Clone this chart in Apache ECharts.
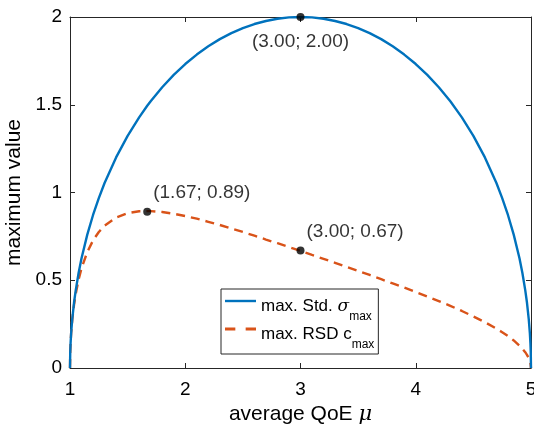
<!DOCTYPE html>
<html>
<head>
<meta charset="utf-8">
<script src="https://cdn.jsdelivr.net/npm/echarts@6/dist/echarts.min.js"></script>
<style>html,body{margin:0;padding:0;background:#fff}#c{width:534px;height:429px}</style>
</head>
<body>
<div id="c"></div>
<script>
// ---- data ----
var mu = [1, 1.002, 1.005, 1.01, 1.02, 1.035, 1.05, 1.075, 1.1, 1.15, 1.2, 1.25, 1.3, 1.4, 1.5, 1.6, 1.67, 1.7, 1.8, 1.9,
          2.0, 2.1, 2.2, 2.3, 2.4, 2.5, 2.6, 2.7, 2.8, 2.9, 3.0, 3.1, 3.2, 3.3, 3.4, 3.5, 3.6, 3.7, 3.8, 3.9,
          4.0, 4.1, 4.2, 4.3, 4.4, 4.5, 4.6, 4.7, 4.75, 4.8, 4.85, 4.9, 4.925, 4.95, 4.965, 4.98, 4.99, 4.995, 4.998, 5];
var sigmaMax = [0, 0.089, 0.141, 0.200, 0.282, 0.373, 0.444, 0.543, 0.625, 0.760, 0.872, 0.968, 1.054, 1.200, 1.323, 1.428, 1.494, 1.520, 1.600, 1.670,
          1.732, 1.786, 1.833, 1.874, 1.908, 1.937, 1.960, 1.977, 1.990, 1.998, 2.000, 1.998, 1.990, 1.977, 1.960, 1.937, 1.908, 1.874, 1.833, 1.786,
          1.732, 1.670, 1.600, 1.520, 1.428, 1.323, 1.200, 1.054, 0.968, 0.872, 0.760, 0.625, 0.543, 0.444, 0.373, 0.282, 0.200, 0.141, 0.089, 0];
var rsdMax = [0, 0.089, 0.141, 0.198, 0.277, 0.360, 0.423, 0.505, 0.568, 0.661, 0.727, 0.775, 0.811, 0.857, 0.882, 0.893, 0.894, 0.894, 0.889, 0.879,
          0.866, 0.851, 0.833, 0.815, 0.795, 0.775, 0.754, 0.732, 0.711, 0.689, 0.667, 0.644, 0.622, 0.599, 0.576, 0.553, 0.530, 0.506, 0.482, 0.458,
          0.433, 0.407, 0.381, 0.354, 0.325, 0.294, 0.261, 0.224, 0.204, 0.182, 0.157, 0.127, 0.110, 0.090, 0.075, 0.057, 0.040, 0.028, 0.018, 0];
var markX = [3.00, 1.67, 3.00];
var markY = [2.00, 0.89, 0.67];
var xTicks = [1, 2, 3, 4, 5];
var yTicks = [0, 0.5, 1, 1.5, 2];
var seriesNames = ['max. Std. σmax', 'max. RSD cmax'];

var FONT = 'Liberation Sans, Arial, Helvetica, sans-serif';
var SERIF = 'DejaVu Serif, Liberation Serif, serif';
var AX = '#262626';
var blue = '#0072BD', red = '#D95319';

function pairs(xs, ys){ return xs.map(function(x,i){ return [x, ys[i]]; }); }

var chart = echarts.init(document.getElementById('c'), null, {renderer:'canvas'});
var axisCommon = {
  type: 'value',
  axisLine: {show: true, onZero: false, lineStyle: {color: AX, width: 1}},
  axisTick: {show: true, inside: true, length: 5, lineStyle: {color: AX, width: 1}},
  splitLine: {show: false}
};
var markData = markX.map(function(x,i){ return {value:[x, markY[i]]}; });

var option = {
  animation: false,
  backgroundColor: '#fff',
  textStyle: {fontFamily: FONT},
  grid: {left: 70, right: 3, top: 17, bottom: 61, containLabel: false, outerBoundsMode: 'none'},
  legend: {
    show: true,
    left: 221, top: 289,
    orient: 'vertical',
    padding: [2, 4, 3, 4],
    itemGap: -4,
    itemWidth: 31, itemHeight: 14,
    backgroundColor: '#fff',
    borderColor: '#262626', borderWidth: 1,
    selectedMode: false,
    data: [
      {name: seriesNames[0], icon: 'path://M0,0 L31,0 L31,2.4 L0,2.4 Z', itemStyle:{color: blue}},
      {name: seriesNames[1], icon: 'path://M0,0 L9,0 L9,2.4 L0,2.4 Z M18,0 L27,0 L27,2.4 L18,2.4 Z', itemStyle:{color: red}}
    ],
    formatter: function(name){
      if (name === seriesNames[0]) return '{t|max. Std. }{i|σ}{s|max}';
      return '{t|max. RSD c}{s|max}';
    },
    textStyle: {
      color: '#000', fontFamily: FONT, fontSize: 17,
      rich: {
        t: {fontSize: 17, fontFamily: FONT, color:'#000', lineHeight: 20, verticalAlign: 'top', padding: [7,0,0,0]},
        i: {fontSize: 17, fontFamily: SERIF, fontStyle: 'italic', color:'#000', lineHeight: 20, verticalAlign: 'top', padding: [7,0,0,0]},
        s: {fontSize: 12, fontFamily: FONT, color:'#000', lineHeight: 14, verticalAlign: 'top', padding: [20,0,0,0]}
      }
    }
  },
  xAxis: [
    Object.assign({}, axisCommon, {
      min: 1, max: 5, interval: 1, position: 'bottom',
      axisLabel: {color: '#000', fontSize: 19, fontFamily: FONT, margin: 12},
      name: '{t|average QoE }{i|μ}', nameLocation: 'middle', nameGap: 30,
      nameTextStyle: {fontSize: 21, color:'#000', rich: {
        t: {fontSize: 21, fontFamily: FONT, color:'#000'},
        i: {fontSize: 21, fontFamily: SERIF, fontStyle:'italic', color:'#000'}
      }}
    }),
    Object.assign({}, axisCommon, {
      min: 1, max: 5, interval: 1, position: 'top',
      axisLabel: {show: false}
    })
  ],
  yAxis: [
    Object.assign({}, axisCommon, {
      min: 0, max: 2, interval: 0.5, position: 'left',
      axisLabel: {color: '#000', fontSize: 19, fontFamily: FONT, margin: 8,
        formatter: function(v){ return String(v); }},
      name: 'maximum value', nameLocation: 'middle', nameGap: 33, nameRotate: 90,
      nameTextStyle: {fontSize: 21, color:'#000', fontFamily: FONT}
    }),
    Object.assign({}, axisCommon, {
      min: 0, max: 2, interval: 0.5, position: 'right',
      axisLabel: {show: false}
    })
  ],
  series: [
    {
      name: seriesNames[0], type: 'line', data: pairs(mu, sigmaMax),
      showSymbol: false, symbol: 'none', smooth: false,
      lineStyle: {color: blue, width: 2.4}, itemStyle: {color: blue}, z: 3
    },
    {
      name: seriesNames[1], type: 'line', data: pairs(mu, rsdMax),
      showSymbol: false, symbol: 'none', smooth: false,
      lineStyle: {color: red, width: 2.4, type: [9, 6]}, itemStyle: {color: red}, z: 2
    },
    {
      name: 'marks', type: 'scatter', data: markData,
      symbol: 'circle', symbolSize: 8, itemStyle: {color: '#000'}, z: 5,
      label: {
        show: true, color: '#000', fontSize: 19, fontFamily: FONT,
        formatter: function(p){ return '(' + p.value[0].toFixed(2) + '; ' + p.value[1].toFixed(2) + ')'; },
        position: [10, -15], align: 'left', verticalAlign: 'middle'
      }
    }
  ]
};
// first marker label below the point
option.series[2].data[0].label = {position: [4, 29], align: 'center', verticalAlign: 'middle'};
chart.setOption(option);
</script>
</body>
</html>
